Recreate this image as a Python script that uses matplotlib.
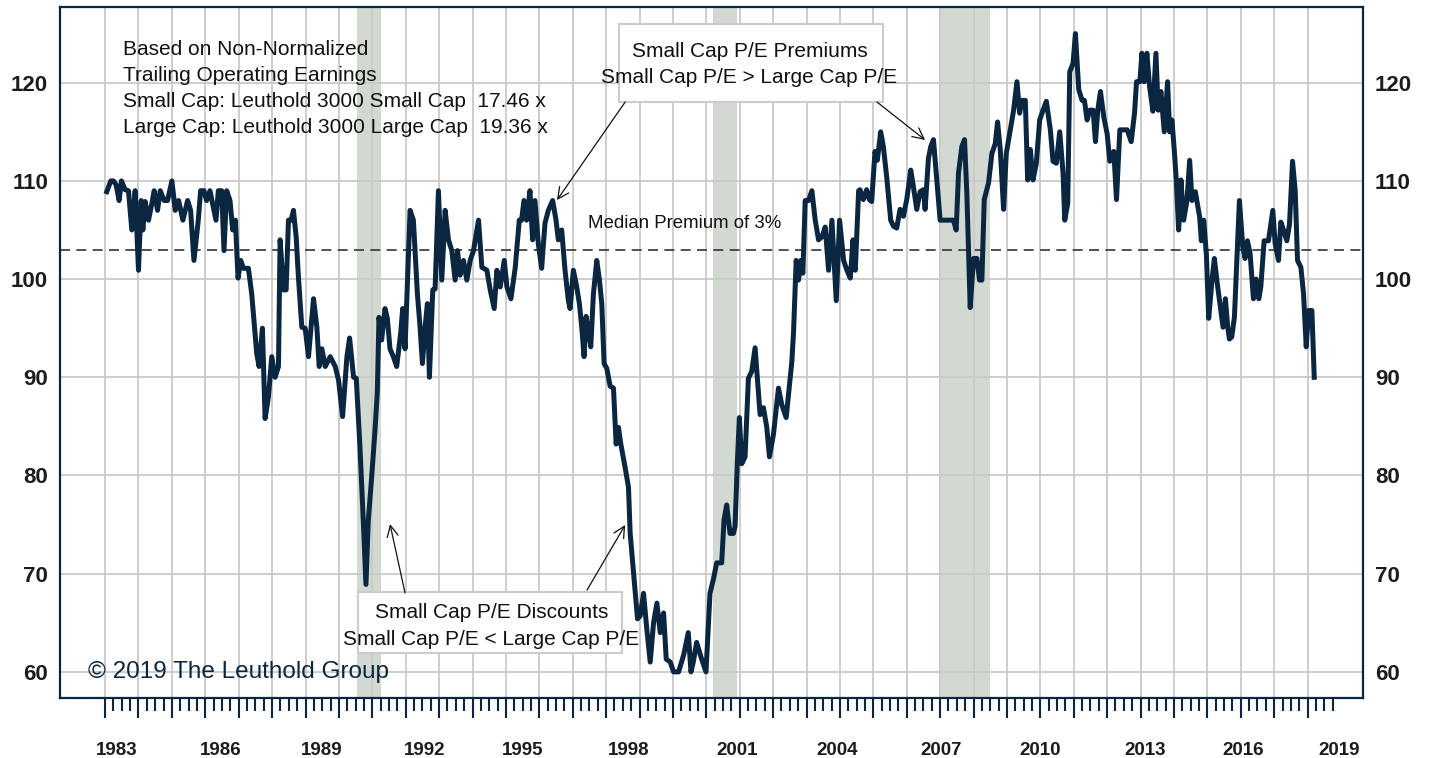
"""Small cap vs large cap P/E premium chart (Leuthold style)."""

import matplotlib

matplotlib.use("Agg")
import matplotlib.pyplot as plt
from matplotlib.patches import Rectangle
import numpy as np

NAVY = "#0b2640"
GRID = "#c9c9c9"
SHADE = "#d2d9d1"
BOX_EDGE = "#cccccc"

# decimal year of each reading
dates = [
    1983.05, 1983.17, 1983.25, 1983.33, 1983.42, 1983.49, 1983.60, 1983.70, 1983.80, 1983.90,
    1984.00, 1984.08, 1984.13, 1984.20, 1984.30, 1984.40, 1984.47, 1984.57, 1984.65, 1984.77,
    1984.87, 1985.00, 1985.10, 1985.20, 1985.33, 1985.47, 1985.56, 1985.66, 1985.79, 1985.86,
    1985.96, 1986.04, 1986.14, 1986.32, 1986.39, 1986.49, 1986.56, 1986.64, 1986.74, 1986.82,
    1986.90, 1986.98, 1987.06, 1987.14, 1987.29, 1987.39, 1987.54, 1987.61, 1987.71, 1987.79,
    1987.89, 1987.99, 1988.09, 1988.19, 1988.24, 1988.34, 1988.42, 1988.49, 1988.57, 1988.64,
    1988.72, 1988.79, 1988.89, 1988.99, 1989.09, 1989.24, 1989.34, 1989.41, 1989.49, 1989.59,
    1989.74, 1989.89, 1989.99, 1990.11, 1990.24, 1990.32, 1990.44, 1990.52, 1990.63, 1990.73,
    1990.81, 1990.88, 1990.98, 1991.08, 1991.15, 1991.20, 1991.28, 1991.38, 1991.45, 1991.53,
    1991.63, 1991.73, 1991.85, 1991.91, 1991.98, 1992.13, 1992.23, 1992.35, 1992.43, 1992.50,
    1992.58, 1992.65, 1992.71, 1992.81, 1992.88, 1992.98, 1993.08, 1993.18, 1993.28, 1993.38,
    1993.48, 1993.55, 1993.63, 1993.73, 1993.83, 1993.93, 1994.03, 1994.18, 1994.28, 1994.43,
    1994.53, 1994.65, 1994.73, 1994.83, 1994.95, 1995.03, 1995.15, 1995.28, 1995.40, 1995.47,
    1995.54, 1995.62, 1995.72, 1995.80, 1995.87, 1995.97, 1996.07, 1996.17, 1996.27, 1996.40,
    1996.50, 1996.57, 1996.67, 1996.77, 1996.87, 1996.92, 1997.02, 1997.12, 1997.20, 1997.27,
    1997.34, 1997.40, 1997.47, 1997.54, 1997.62, 1997.72, 1997.80, 1997.87, 1997.94, 1998.02,
    1998.12, 1998.22, 1998.30, 1998.37, 1998.44, 1998.57, 1998.67, 1998.72, 1998.82, 1998.94,
    1999.02, 1999.12, 1999.22, 1999.32, 1999.42, 1999.52, 1999.62, 1999.72, 1999.80, 1999.92,
    2000.02, 2000.17, 2000.32, 2000.46, 2000.54, 2000.61, 2000.71, 2000.86, 2000.99, 2001.11,
    2001.21, 2001.31, 2001.46, 2001.53, 2001.61, 2001.71, 2001.81, 2001.86, 2001.93, 2001.99,
    2002.06, 2002.16, 2002.26, 2002.36, 2002.46, 2002.61, 2002.71, 2002.81, 2002.89, 2003.01,
    2003.16, 2003.26, 2003.39, 2003.46, 2003.56, 2003.61, 2003.69, 2003.76, 2003.83, 2003.89,
    2003.96, 2004.06, 2004.16, 2004.26, 2004.36, 2004.46, 2004.56, 2004.66, 2004.76, 2004.89,
    2004.99, 2005.11, 2005.21, 2005.31, 2005.39, 2005.46, 2005.56, 2005.60, 2005.70, 2005.80,
    2005.88, 2005.95, 2006.05, 2006.12, 2006.22, 2006.30, 2006.40, 2006.52, 2006.60, 2006.70,
    2006.80, 2006.90, 2007.00, 2007.12, 2007.20, 2007.30, 2007.40, 2007.50, 2007.55, 2007.65,
    2007.72, 2007.80, 2007.90, 2008.00, 2008.15, 2008.30, 2008.40, 2008.48, 2008.55, 2008.65,
    2008.73, 2008.80, 2008.90, 2009.00, 2009.10, 2009.18, 2009.25, 2009.32, 2009.45, 2009.55,
    2009.65, 2009.72, 2009.80, 2009.90, 2009.98, 2010.10, 2010.20, 2010.30, 2010.38, 2010.45,
    2010.55, 2010.62, 2010.70, 2010.78, 2010.88, 2010.98, 2011.08, 2011.18, 2011.30, 2011.38,
    2011.48, 2011.58, 2011.68, 2011.73, 2011.82, 2011.88, 2011.98, 2012.05, 2012.15, 2012.25,
    2012.32, 2012.40, 2012.48, 2012.58, 2012.65, 2012.72, 2012.80, 2012.90, 2013.00, 2013.08,
    2013.20, 2013.28, 2013.38, 2013.50, 2013.60, 2013.72, 2013.82, 2013.88, 2013.98, 2014.04,
    2014.11, 2014.19, 2014.27, 2014.37, 2014.46, 2014.53, 2014.61, 2014.71, 2014.81, 2014.87,
    2014.94, 2015.01, 2015.07, 2015.14, 2015.21, 2015.29, 2015.39, 2015.47, 2015.54, 2015.64,
    2015.77, 2015.82, 2015.89, 2015.97, 2016.04, 2016.14, 2016.21, 2016.31, 2016.47, 2016.54,
    2016.61, 2016.66, 2016.73, 2016.81, 2016.96, 2017.06, 2017.13, 2017.20, 2017.28, 2017.38,
    2017.46, 2017.54, 2017.60, 2017.70, 2017.83, 2017.96, 2018.03, 2018.13, 2018.20, 2018.28,
    2018.38, 2018.46, 2018.55, 2018.63, 2018.70, 2018.80, 2018.88, 2018.96, 2019.03, 2019.13,
    2019.20,
]

# small cap P/E relative to large cap P/E (100 = parity)
premium = [
    108.9, 110.0, 110.0, 109.6, 108.0, 110.0, 109.1, 109.0, 105.0, 109.0,
    100.9, 108.0, 105.0, 107.9, 106.0, 107.7, 109.0, 107.0, 109.0, 108.0,
    108.0, 110.0, 107.0, 108.0, 106.0, 108.0, 107.0, 101.9, 106.0, 109.0,
    109.0, 108.0, 109.0, 106.0, 109.0, 109.0, 102.9, 109.0, 108.0, 105.0,
    106.0, 100.1, 101.9, 101.1, 101.1, 98.5, 92.4, 91.1, 95.0, 85.8,
    88.0, 92.1, 90.0, 91.1, 104.0, 98.9, 98.9, 106.0, 106.0, 107.0,
    104.3, 100.1, 95.1, 95.0, 92.1, 98.0, 95.1, 91.1, 92.9, 91.1,
    92.1, 91.1, 89.7, 86.0, 92.1, 94.0, 90.0, 89.9, 82.9, 75.4,
    68.9, 75.4, 79.8, 84.6, 88.5, 96.1, 93.8, 97.0, 96.0, 92.9,
    92.1, 91.1, 94.5, 97.0, 92.9, 107.0, 106.0, 98.5, 95.1, 91.4,
    95.1, 97.5, 90.0, 98.9, 99.0, 109.0, 99.9, 107.0, 104.0, 102.9,
    99.9, 102.9, 100.4, 101.9, 99.9, 101.9, 102.9, 106.0, 101.2, 100.9,
    98.9, 97.0, 100.9, 99.2, 101.9, 99.2, 98.0, 101.2, 106.0, 106.0,
    108.0, 106.0, 109.0, 104.0, 108.0, 103.6, 101.1, 105.7, 107.0, 108.0,
    106.0, 104.0, 105.0, 100.9, 97.8, 97.0, 100.9, 99.2, 97.5, 95.1,
    92.1, 96.2, 94.8, 93.1, 98.5, 101.9, 99.9, 97.5, 91.4, 90.9,
    89.1, 88.9, 83.2, 84.9, 83.2, 80.8, 78.8, 74.1, 70.1, 65.4,
    65.7, 68.0, 64.3, 61.0, 65.0, 67.0, 64.0, 66.0, 61.3, 61.0,
    60.0, 60.0, 61.7, 64.0, 60.0, 61.0, 63.0, 61.3, 60.0, 68.0,
    69.4, 71.1, 71.1, 75.5, 77.0, 74.1, 74.1, 74.8, 81.5, 85.9,
    81.2, 81.9, 89.9, 90.6, 93.0, 86.2, 86.9, 84.9, 81.9, 84.2,
    88.9, 87.2, 85.9, 88.2, 91.6, 94.5, 101.9, 99.9, 101.9, 100.6,
    108.0, 108.0, 109.0, 106.0, 104.0, 104.3, 105.3, 100.9, 106.0, 97.8,
    106.0, 101.9, 100.9, 100.1, 104.0, 100.9, 109.0, 109.1, 108.1, 109.1,
    108.1, 107.9, 113.0, 112.1, 115.0, 113.5, 110.4, 106.0, 105.4, 105.2,
    107.1, 106.4, 108.1, 111.1, 109.4, 107.1, 108.9, 109.1, 107.1, 112.3,
    113.5, 114.2, 110.1, 106.0, 106.0, 106.0, 106.0, 105.0, 110.8, 113.5,
    114.2, 108.7, 97.1, 102.1, 102.1, 99.9, 99.9, 108.1, 109.8, 112.8,
    113.8, 116.0, 113.2, 107.1, 112.8, 115.2, 117.2, 120.1, 116.9, 118.2,
    118.2, 110.1, 113.2, 110.1, 111.8, 116.2, 117.2, 118.1, 115.2, 112.0,
    111.8, 115.0, 110.8, 106.0, 107.7, 121.1, 122.0, 125.0, 119.3, 118.2,
    118.2, 116.2, 117.2, 117.2, 114.0, 117.2, 119.1, 116.5, 114.8, 112.0,
    113.0, 108.1, 115.2, 115.2, 115.2, 114.0, 116.9, 120.1, 120.1, 123.0,
    120.1, 123.0, 119.6, 117.1, 123.0, 117.2, 119.1, 115.0, 120.1, 115.0,
    116.2, 113.1, 110.1, 105.0, 110.1, 106.0, 108.0, 112.1, 108.0, 108.9,
    106.3, 103.9, 106.0, 102.6, 96.0, 99.9, 102.1, 99.2, 95.1, 98.0,
    95.1, 93.9, 94.1, 96.1, 108.0, 103.3, 102.1, 103.9, 102.6, 98.0,
    100.0, 98.0, 99.2, 103.9, 103.9, 107.0, 103.6, 101.9, 105.8, 105.0,
    103.9, 105.6, 112.0, 109.0, 101.9, 101.2, 98.5, 93.1, 96.8, 96.8,
    90.0,
]

median_premium = 103

# recessions (start, end) in decimal years
recessions = [(1990.54, 1991.25), (2001.21, 2001.91), (2007.97, 2009.48)]

year_labels = ["1983", "1986", "1989", "1992", "1995", "1998", "2001",
               "2004", "2007", "2010", "2013", "2016", "2019"]
# where each year label sits on the date axis (labels drift from the ticks)
year_label_pos = [1983.36, 1986.47, 1989.47, 1992.58, 1995.51, 1998.69, 2001.92,
                  2004.92, 2008.03, 2010.99, 2014.14, 2017.07, 2019.95]

info_lines = [
    "Based on Non-Normalized",
    "Trailing Operating Earnings",
    "Small Cap: Leuthold 3000 Small Cap  17.46 x",
    "Large Cap: Leuthold 3000 Large Cap  19.36 x",
]

plt.rcParams["font.family"] = ["Liberation Sans", "DejaVu Sans"]

fig = plt.figure(figsize=(14.34, 7.58), dpi=100)
ax = fig.add_axes([0.04184, 0.07916, 0.90865, 0.91161])

for start, end in recessions:
    ax.axvspan(start, end, color=SHADE, zorder=0.2, lw=0)

ax.set_axisbelow(True)
ax.grid(True, which="major", color=GRID, lw=1.3)

ax.axhline(median_premium, color="#333333", lw=1.2, ls=(0, (6, 3.8)), zorder=1.5)
ax.plot(dates, premium, color=NAVY, lw=3.6, zorder=3, solid_joinstyle="round")

ax.set_xlim(1981.65, 2020.66)
ax.set_ylim(57.34, 127.71)

ax.set_xticks(np.arange(1983, 2020))
ax.set_xticks([q for q in np.arange(1983, 2019.76, 0.25) if q % 1], minor=True)
ax.set_xticklabels([])
ax.tick_params(axis="x", which="major", length=14.4, width=1.5, color=NAVY, direction="out")
ax.tick_params(axis="x", which="minor", length=9.4, width=1.5, color=NAVY, direction="out")

ax.set_yticks(np.arange(60, 121, 10))
ax.tick_params(axis="y", which="both", length=0, labelsize=16, labelcolor="#1c1c1c",
               labelright=True, pad=8.6)
for lab in ax.get_yticklabels():
    lab.set_fontweight("bold")
for lab in ax.yaxis.get_ticklabels(which="major"):
    pass
ax.yaxis.set_tick_params(which="major", pad=8.6)
for t in ax.yaxis.get_major_ticks():
    t.label2.set_fontweight("bold")
    t.set_pad(8.6)
    t.label2.set_x(1.0)

for name, spine in ax.spines.items():
    spine.set_color(NAVY)
    spine.set_linewidth(1.6)

xlab_tr = ax.get_xaxis_transform()
for label, pos in zip(year_labels, year_label_pos):
    ax.text(pos, -0.0825, label, transform=xlab_tr, ha="center", va="baseline",
            fontsize=13.5, fontweight="bold", color="#1c1c1c")

# info block, top left
for i, line in enumerate(info_lines):
    ax.text(0.0484, 0.9305 - i * 0.0378, line, transform=ax.transAxes,
            ha="left", va="baseline", fontsize=15, color="#111111")

ax.text(1997.46, 105.17, "Median Premium of 3%", ha="left", va="baseline",
        fontsize=13.4, color="#111111", zorder=4)

# premium call-out
ax.add_patch(Rectangle((1998.39, 118.03), 2006.29 - 1998.39, 125.98 - 118.03,
                       facecolor="white", edgecolor=BOX_EDGE, lw=1.5, zorder=2))
ax.text(2002.29, 122.59, "Small Cap P/E Premiums", ha="center", va="baseline",
        fontsize=15, color="#111111", zorder=2.5)
ax.text(2002.29, 119.94, "Small Cap P/E > Large Cap P/E", ha="center", va="baseline",
        fontsize=15, color="#111111", zorder=2.5)

# discount call-out
ax.add_patch(Rectangle((1990.57, 61.93), 1998.48 - 1990.57, 68.14 - 61.93,
                       facecolor="white", edgecolor=BOX_EDGE, lw=1.5, zorder=2))
ax.text(1994.56, 65.46, "Small Cap P/E Discounts", ha="center", va="baseline",
        fontsize=15, color="#111111", zorder=2.5)
ax.text(1994.56, 62.74, "Small Cap P/E < Large Cap P/E", ha="center", va="baseline",
        fontsize=15, color="#111111", zorder=2.5)

arrow_kw = dict(arrowstyle="->", color="#111111", lw=0.9, shrinkA=0, shrinkB=0,
                mutation_scale=20)
for tail, tip in [((1998.57, 118.03), (1996.53, 108.05)),
                  ((2006.11, 118.03), (2007.55, 114.17)),
                  ((1991.98, 68.03), (1991.53, 75.05)),
                  ((1997.43, 68.34), (1998.57, 74.96))]:
    ax.annotate("", xy=tip, xytext=tail, arrowprops=arrow_kw, zorder=2.6)

ax.text(1982.5, 59.35, "\u00a9 2019 The Leuthold Group", ha="left", va="baseline",
        fontsize=17.5, color=NAVY, zorder=4)

fig.savefig("out.png", dpi=100, facecolor="white")
